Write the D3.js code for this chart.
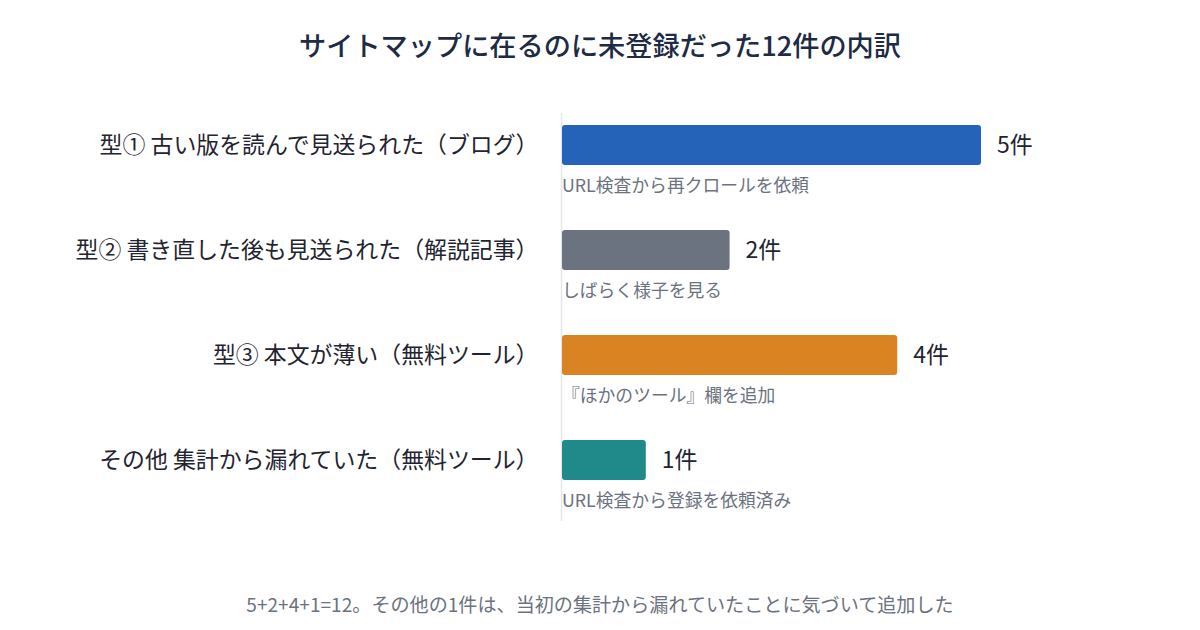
<!DOCTYPE html>
<html><head><meta charset="utf-8">
<script src="https://cdn.jsdelivr.net/npm/d3@7"></script>
<style>
body{margin:0;background:#fff;}
svg{display:block;font-family:"Noto Sans CJK JP","Noto Sans",sans-serif;}
</style></head>
<body>
<svg id="c" width="1200" height="630"></svg>
<script>
const categories = ["型① 古い版を読んで見送られた（ブログ）","型② 書き直した後も見送られた（解説記事）","型③ 本文が薄い（無料ツール）","その他 集計から漏れていた（無料ツール）"];
const values = [5,2,4,1];
const valueLabels = ["5件","2件","4件","1件"];
const notes = ["URL検査から再クロールを依頼","しばらく様子を見る","『ほかのツール』欄を追加","URL検査から登録を依頼済み"];
const colors = ["#2563b8","#6b7380","#d98323","#208a8a"];
const title = "サイトマップに在るのに未登録だった12件の内訳";
const footer = "5+2+4+1=12。その他の1件は、当初の集計から漏れていたことに気づいて追加した";

const svg = d3.select("#c");
const x = d3.scaleLinear().domain([0,5]).range([562,981]);
const y = d3.scaleBand().domain(categories).range([92.5,512.5]).paddingInner(65/105).paddingOuter(65/210);
const bw = y.bandwidth();

svg.append("text").attr("x",600).attr("y",46).attr("dy","0.35em").attr("text-anchor","middle")
  .attr("font-size",27.2).attr("font-weight",500).attr("fill","#1d2b45").text(title);

svg.append("line").attr("x1",561.5).attr("x2",561.5).attr("y1",113).attr("y2",521)
  .attr("stroke","#e5e7eb").attr("stroke-width",1.5);

const g = svg.selectAll("g.row").data(categories).join("g").attr("class","row");
g.append("rect").attr("x",x(0)).attr("y",d=>y(d)).attr("height",bw)
  .attr("width",(d,i)=>x(values[i])-x(0)).attr("rx",3).attr("fill",(d,i)=>colors[i]);
g.append("text").attr("x",538.5).attr("y",d=>y(d)+bw/2).attr("dy","0.35em").attr("text-anchor","end")
  .attr("font-size",22.9).attr("fill","#1f2430").text(d=>d);
g.append("text").attr("x",(d,i)=>x(values[i])+16).attr("y",d=>y(d)+bw/2).attr("dy","0.35em")
  .attr("font-size",23).attr("fill","#1f2430").text((d,i)=>valueLabels[i]);
g.append("text").attr("x",562).attr("y",d=>y(d)+bw+21).attr("dy","0.35em")
  .attr("font-size",17.8).attr("fill","#6b7280").text((d,i)=>notes[i]);

svg.append("text").attr("x",600).attr("y",605).attr("dy","0.35em").attr("text-anchor","middle")
  .attr("font-size",19.1).attr("fill","#6b7280").text(footer);
</script>
</body></html>
